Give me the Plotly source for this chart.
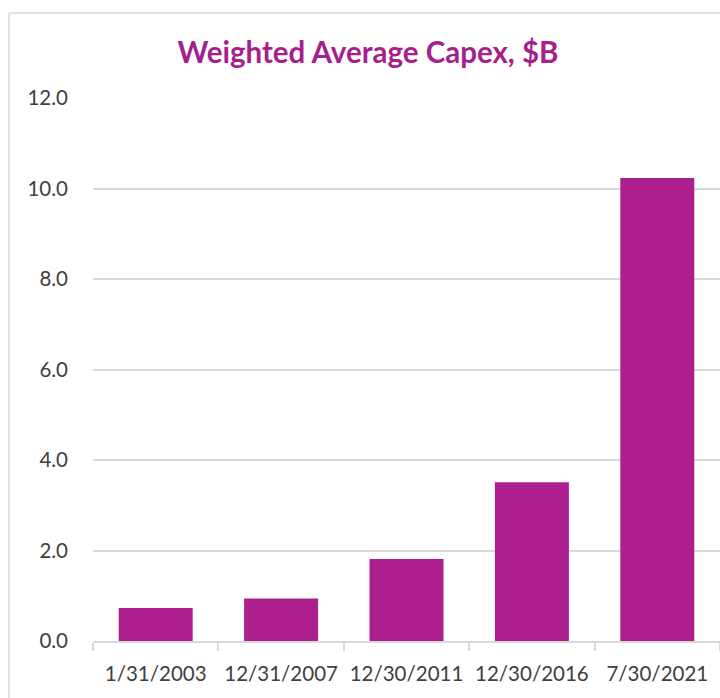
import plotly.graph_objects as go

categories = ["1/31/2003", "12/31/2007", "12/30/2011", "12/30/2016", "7/30/2021"]
capex_values = [0.73, 0.94, 1.81, 3.51, 10.23]
title_text = "Weighted Average Capex, $B"

BAR = "#AE1F8E"
GRID = "#d9d9d9"
TXT = "#404040"
FONT = "Lato"

W, H = 720, 698
L, R, T, B = 93, 0, 98, 57
pw = W - L - R
ph = H - T - B

fig = go.Figure(go.Bar(x=categories, y=capex_values, marker=dict(color=BAR, line=dict(width=0))))

def px_to_paper_x(px):
    return (px - L) / pw

def px_to_paper_y(py):
    return (H - B - py) / ph

border_x = px_to_paper_x(9)
border_y = px_to_paper_y(13)

fig.update_layout(
    width=W, height=H,
    margin=dict(l=L, r=R, t=T, b=B),
    paper_bgcolor="white", plot_bgcolor="white",
    bargap=0.41,
    showlegend=False,
    title=dict(text=f"<b>{title_text}</b>", x=368 / W, xanchor="center",
               y=1 - 53 / H, yanchor="middle",
               font=dict(family=FONT, size=29.5, color="#A61F8C")),
    font=dict(family=FONT, color=TXT),
    xaxis=dict(type="category", showgrid=False, showline=True, linecolor=GRID, linewidth=2,
               ticks="outside", ticklen=8, tickcolor=GRID, tickwidth=1.5, tickson="boundaries",
               tickfont=dict(family=FONT, size=20.5, color=TXT), ticklabelstandoff=13),
    yaxis=dict(range=[0, 12], dtick=2, tickformat=".1f", showgrid=True, gridcolor=GRID, gridwidth=1.5,
               zeroline=False, showline=False, ticks="",
               tickfont=dict(family=FONT, size=20.5, color=TXT), ticklabelstandoff=24),
    shapes=[
        dict(type="line", xref="paper", yref="paper", x0=border_x, x1=1.2, y0=border_y, y1=border_y,
             line=dict(color=GRID, width=1.5)),
        dict(type="line", xref="paper", yref="paper", x0=border_x, x1=border_x, y0=-0.3, y1=border_y,
             line=dict(color=GRID, width=1.5)),
    ],
)

fig.write_html(
    "out.html",
    config={"displayModeBar": False},
    post_script="document.body.style.margin='0';document.body.style.overflow='hidden';",
)
